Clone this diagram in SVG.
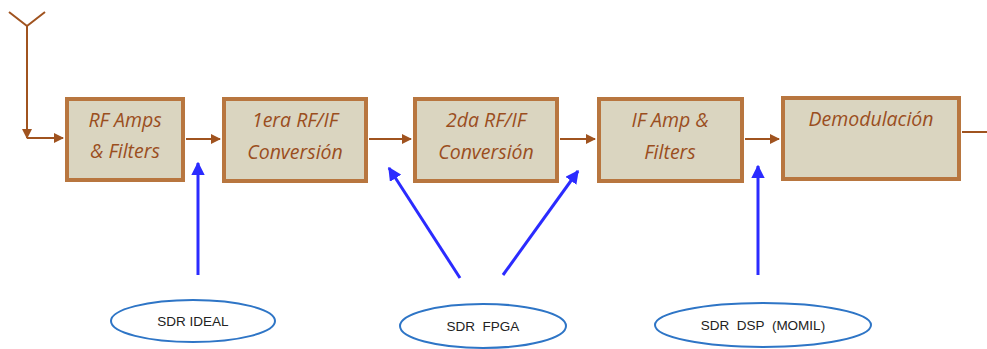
<svg xmlns="http://www.w3.org/2000/svg" width="987" height="349" viewBox="0 0 987 349">
  <style>
    .blk rect { fill: #DAD5C0; stroke: #B8763F; stroke-width: 4; }
    .blk text { font-family: "Open Sans", "Liberation Sans", sans-serif; font-style: italic; font-size: 19.5px; fill: #9A4E1E; text-anchor: middle; }
    .sig { stroke: #A0531F; stroke-width: 2; fill: none; }
    .ctl { stroke: #2B2BFF; stroke-width: 3; fill: none; }
    .tag ellipse { fill: #FFFFFF; stroke: #2E75C6; stroke-width: 2; }
    .tag text { font-family: "Liberation Sans Narrow", "Liberation Sans", sans-serif; font-size: 13.5px; fill: #222; text-anchor: middle; }
  </style>
  <defs>
    <marker id="ah" viewBox="0 0 10 10" refX="9" refY="5" markerWidth="5" markerHeight="5" orient="auto" markerUnits="strokeWidth">
      <path d="M0,0 L10,5 L0,10 z" fill="#A0531F"/>
    </marker>
    <marker id="bh" viewBox="0 0 10 10" refX="9" refY="5" markerWidth="4.5" markerHeight="4.5" orient="auto" markerUnits="strokeWidth">
      <path d="M0,0 L10,5 L0,10 z" fill="#2B2BFF"/>
    </marker>
  </defs>
  <rect width="987" height="349" fill="#FFFFFF"/>

  <g id="connectors">
    <!-- antenna -->
    <path class="sig" d="M9,12 L27,26 L45,12"/>
    <path class="sig" d="M27,26 L27,138" marker-end="url(#ah)"/>
    <path class="sig" d="M27,138 L63,138" marker-end="url(#ah)"/>
    <!-- signal chain -->
    <path class="sig" d="M186,139 L220,139" marker-end="url(#ah)"/>
    <path class="sig" d="M369,139 L411,139" marker-end="url(#ah)"/>
    <path class="sig" d="M560,139 L595,139" marker-end="url(#ah)"/>
    <path class="sig" d="M745,139 L779,139" marker-end="url(#ah)"/>
    <path class="sig" d="M962,132 L987,132"/>
    <!-- SDR pointers -->
    <path class="ctl" d="M198,275 L198,163" marker-end="url(#bh)"/>
    <path class="ctl" d="M460,278 L389,168" marker-end="url(#bh)"/>
    <path class="ctl" d="M503,275 L578,171" marker-end="url(#bh)"/>
    <path class="ctl" d="M758,275 L758,166" marker-end="url(#bh)"/>
  </g>

  <g id="rf-amps" class="blk">
    <rect x="67" y="99" width="116" height="81"/>
    <text x="125" y="127">RF Amps</text>
    <text x="125" y="158">&amp; Filters</text>
  </g>
  <g id="conv1" class="blk">
    <rect x="224" y="99" width="142" height="82"/>
    <text x="295" y="127">1era RF/IF</text>
    <text x="295" y="159">Conversión</text>
  </g>
  <g id="conv2" class="blk">
    <rect x="415" y="99" width="142" height="82"/>
    <text x="486" y="127">2da RF/IF</text>
    <text x="486" y="159">Conversión</text>
  </g>
  <g id="if-amp" class="blk">
    <rect x="599" y="99" width="143" height="82"/>
    <text x="670" y="127">IF Amp &amp;</text>
    <text x="670" y="159">Filters</text>
  </g>
  <g id="demod" class="blk">
    <rect x="783" y="98" width="176" height="81"/>
    <text x="871" y="126">Demodulación</text>
  </g>

  <g id="sdr-ideal" class="tag">
    <ellipse cx="193" cy="321" rx="82" ry="21"/>
    <text x="193" y="326">SDR IDEAL</text>
  </g>
  <g id="sdr-fpga" class="tag">
    <ellipse cx="483" cy="326" rx="83" ry="22"/>
    <text x="483" y="331" xml:space="preserve">SDR  FPGA</text>
  </g>
  <g id="sdr-dsp" class="tag">
    <ellipse cx="763" cy="325" rx="108" ry="22"/>
    <text x="763" y="330" xml:space="preserve">SDR  DSP  (MOMIL)</text>
  </g>
</svg>
